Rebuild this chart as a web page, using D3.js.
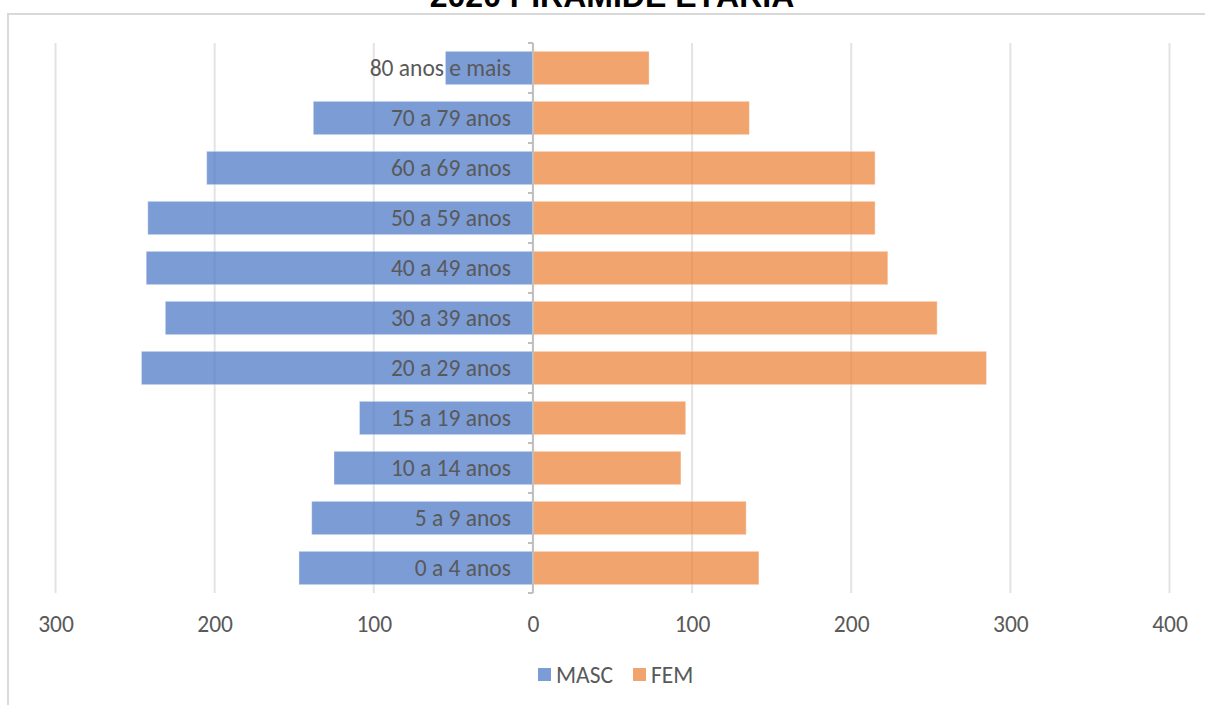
<!DOCTYPE html>
<html>
<head>
<meta charset="utf-8">
<script src="https://cdn.jsdelivr.net/npm/d3@7"></script>
<style>
  html, body { margin: 0; padding: 0; background: #fff; }
  svg { display: block; }
</style>
</head>
<body>
<svg id="chart" width="1205" height="705"></svg>
<script>
// Age groups, from youngest to oldest
const categories = [
  "0 a 4 anos", "5 a 9 anos", "10 a 14 anos", "15 a 19 anos", "20 a 29 anos",
  "30 a 39 anos", "40 a 49 anos", "50 a 59 anos", "60 a 69 anos", "70 a 79 anos",
  "80 anos e mais"
];
// Population by sex for each age group
const masc = [147, 139, 125, 109, 246, 231, 243, 242, 205, 138, 55];
const fem  = [142, 134, 93, 96, 285, 254, 223, 215, 215, 136, 73];
const seriesNames = ["MASC", "FEM"];
const seriesColors = ["#4472C4", "#ED7D31"];
const xTicks = [-300, -200, -100, 0, 100, 200, 300, 400];
const titleText = "2020 PIRÂMIDE ETÁRIA";

const svg = d3.select("#chart");
const W = 1205, H = 705;
const plot = { left: 55.5, right: 1169.5, top: 43, bottom: 593 };
const labelFont = "Calibri, Carlito, Lato, sans-serif";
const labelSize = 23.5;
const textColor = "#595959";

// chart frame
svg.append("rect")
  .attr("x", 8).attr("y", 14)
  .attr("width", W + 20).attr("height", H + 20)
  .attr("fill", "#fff")
  .attr("stroke", "#d9d9d9").attr("stroke-width", 2);

// title
svg.append("text")
  .attr("x", 612).attr("y", 7)
  .attr("text-anchor", "middle")
  .attr("font-family", "Arial, 'Liberation Sans', sans-serif")
  .attr("font-weight", "bold")
  .attr("font-size", 32)
  .attr("fill", "#000")
  .text(titleText);

const x = d3.scaleLinear().domain([-300, 400]).range([plot.left, plot.right]);
const y = d3.scaleBand()
  .domain(categories.slice().reverse())
  .range([plot.top, plot.bottom])
  .paddingInner(1 / 3)
  .paddingOuter(1 / 6);

// vertical gridlines
svg.append("g")
  .selectAll("line")
  .data(xTicks)
  .join("line")
  .attr("x1", d => x(d)).attr("x2", d => x(d))
  .attr("y1", plot.top).attr("y2", plot.bottom)
  .attr("stroke", "#e3e3e3")
  .attr("stroke-width", 2);

// bars
const rows = categories.map((c, i) => ({ cat: c, masc: masc[i], fem: fem[i] }));
const bars = svg.append("g");
bars.selectAll("rect.masc")
  .data(rows)
  .join("rect")
  .attr("class", "masc")
  .attr("x", d => x(-d.masc))
  .attr("width", d => x(0) - x(-d.masc))
  .attr("y", d => y(d.cat))
  .attr("height", y.bandwidth())
  .attr("fill", seriesColors[0])
  .attr("fill-opacity", 0.7)
  .attr("stroke", "#fff").attr("stroke-opacity", 0.35).attr("stroke-width", 1);
bars.selectAll("rect.fem")
  .data(rows)
  .join("rect")
  .attr("class", "fem")
  .attr("x", x(0))
  .attr("width", d => x(d.fem) - x(0))
  .attr("y", d => y(d.cat))
  .attr("height", y.bandwidth())
  .attr("fill", seriesColors[1])
  .attr("fill-opacity", 0.7)
  .attr("stroke", "#fff").attr("stroke-opacity", 0.35).attr("stroke-width", 1);

// category axis along zero
const catAxis = svg.append("g")
  .attr("transform", `translate(${x(0)},0)`)
  .call(d3.axisLeft(y).tickSize(0).tickPadding(22));
catAxis.select(".domain").remove();
catAxis.selectAll("text")
  .attr("font-family", labelFont)
  .attr("font-size", labelSize)
  .attr("fill", textColor);

// axis line and divider ticks between categories
const step = y.step();
const boundaries = d3.range(categories.length + 1).map(i => plot.top + i * step);
svg.append("line")
  .attr("x1", x(0)).attr("x2", x(0))
  .attr("y1", plot.top).attr("y2", plot.bottom)
  .attr("stroke", "#bfbfbf").attr("stroke-width", 2);
svg.append("g")
  .selectAll("line")
  .data(boundaries)
  .join("line")
  .attr("x1", x(0) - 5).attr("x2", x(0))
  .attr("y1", d => d).attr("y2", d => d)
  .attr("stroke", "#bfbfbf").attr("stroke-width", 2);

// value axis labels
const valAxis = svg.append("g")
  .attr("transform", `translate(0,${plot.bottom})`)
  .call(d3.axisBottom(x).tickValues(xTicks).tickFormat(d => Math.abs(d)).tickSize(0).tickPadding(22));
valAxis.select(".domain").remove();
valAxis.selectAll("text")
  .attr("font-family", labelFont)
  .attr("font-size", labelSize)
  .attr("fill", textColor);

// legend
const legend = svg.append("g").attr("transform", "translate(538,668)");
const legendItems = [
  { name: seriesNames[0], color: seriesColors[0], dx: 0 },
  { name: seriesNames[1], color: seriesColors[1], dx: 95 }
];
const li = legend.selectAll("g").data(legendItems).join("g")
  .attr("transform", d => `translate(${d.dx},0)`);
li.append("rect")
  .attr("width", 13).attr("height", 13)
  .attr("fill", d => d.color).attr("fill-opacity", 0.7);
li.append("text")
  .attr("x", 18).attr("y", 7)
  .attr("dy", "0.35em")
  .attr("font-family", labelFont)
  .attr("font-size", labelSize)
  .attr("fill", textColor)
  .text(d => d.name);
</script>
</body>
</html>
